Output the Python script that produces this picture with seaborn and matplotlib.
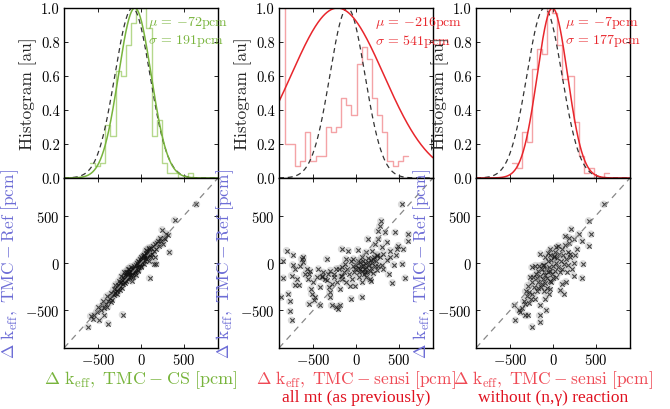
import numpy as np
import pandas as pd
import matplotlib
matplotlib.use("Agg")
import matplotlib.pyplot as plt
import seaborn as sns

# ---------------- data ----------------
# histogram bin edges and normalised heights
edges_cs = [-600, -540, -479, -419, -358, -298, -238, -177, -117, -56, 4, 64,
            125, 185, 246, 306, 366, 427, 487, 548, 608, 668]
heights_cs = [0.09, 0.07, 0.09, 0.31, 0.25, 0.63, 0.60, 0.78, 0.91, 1.0, 1.0,
              0.88, 0.25, 0.34, 0.09, 0.03, 0.03, 0.0, 0.0, 0.03, 0.0]

edges_all = [-953, -833, -773, -713, -653, -593, -533, -473, -413, -353, -293,
             -233, -173, -113, -53, 7, 67, 127, 187, 247, 307, 367, 427, 487,
             547, 607]
heights_all = [1.6, 0.2, 0.2, 0.07, 0.1, 0.27, 0.1, 0.13, 0.13, 0.3, 0.27, 0.3,
               0.47, 0.43, 0.37, 0.67, 0.77, 0.7, 0.47, 0.37, 0.27, 0.1, 0.07,
               0.1, 0.13]

edges_ng = [-479, -420, -362, -303, -244, -185, -126, -67, -8, 51, 110, 177,
            240, 299, 358, 417, 476, 535, 593, 652]
heights_ng = [0.09, 0.06, 0.27, 0.21, 0.64, 0.76, 0.73, 1.0, 0.97, 0.78, 0.58,
              0.60, 0.33, 0.13, 0.03, 0.06, 0.0, 0.0, 0.03]

# gaussian fit parameters (pcm)
mu_cs, sigma_cs = -72, 191
mu_all, sigma_all = -216, 541
mu_ng, sigma_ng = -7, 177
mu_ref, sigma_ref = -100, 205

# scatter points: (x, y) = (TMC - method, TMC - Ref)
x_cs = [-619, -588, -549, -490, -384, -431, -470, -451, -392, -353, -314, -267,
        -216, -520, -430, -410, -380, -360, -340, -330, -300, -290, -280, -270,
        -260, -250, -245, -240, -230, -225, -220, -210, -205, -200, -195, -190,
        -185, -180, -175, -170, -165, -160, -155, -150, -145, -140, -135, -130,
        -125, -120, -115, -110, -105, -100, -95, -90, -85, -80, -75, -70, -65,
        -60, -55, -50, -45, -40, -35, -30, -25, -20, -15, -10, -5, 0, 5, 10, 15,
        20, 25, 30, 35, 40, 45, 50, 55, 60, 65, 70, 75, 80, 90, 95, 100, 105,
        110, 120, 130, 140, 150, 157, 176, 165, 180, 200, 210, 220, 235, 247,
        255, 265, 275, 290, 333, 320, 392, 647, -300, -320, -350, -260, -200,
        -150, -120, -90, -60, -30, 0, 30, 60, 90, 120, 160, 190, -110, -140,
        -170, -230, -280, -400, -440, -500, -560]
y_cs = [-677, -562, -555, -607, -642, -555, -502, -449, -467, -414, -344, -274,
        -548, -520, -480, -430, -400, -370, -390, -330, -320, -280, -300, -230,
        -250, -290, -210, -240, -200, -260, -180, -220, -150, -200, -170, -130,
        -210, -160, -120, -190, -140, -100, -170, -120, -90, -150, -110, -130,
        -80, -150, -100, -60, -120, -90, -50, -110, -70, -30, -90, -50, -100,
        -20, -60, -40, 0, -70, -20, 20, -40, 10, -10, 40, -30, 20, 60, 0, 40,
        70, 30, -10, 50, 90, 20, 60, 110, 40, 80, 130, 60, 100, 20, 150, -160,
        80, 120, 160, 100, 180, 130, -10, -10, 200, 150, 230, 180, 260, 235,
        351, 200, 270, 250, 310, 112, 300, 453, 621, -230, -280, -320, -190,
        -100, -60, -40, -150, -130, -80, -40, 80, 140, 160, 60, 60, 210, -190,
        -60, -90, -140, -330, -350, -400, -470, -590]

x_all = [-811, -858, -850, -877, -791, -772, -772, -753, -741, -741, -714, -753,
         -694, -667, -714, -636, -616, -616, -577, -550, -558, -538, -527, -519,
         -550, -487, -480, -440, -402, -421, -402, -363, -331, -343, -316, -304,
         -304, -285, -253, -230, -230, -207, -187, -187, -168, -168, -160, -129,
         -121, -90, -70, -58, -43, -31, -12, -12, 20, 27, 47, 66, 66, 86, 105,
         113, 136, 144, 164, 183, 202, 222, 241, 253, 261, 280, 292, 300, 319,
         339, 358, 397, 425, 456, 475, 495, 534, 553, 542, 573, 612, 604,
         0, 20, 40, 50, 60, 70, 80, 90, 100, 110, 120, 130, 140, 150, 160, 170,
         180, 190, 200, 210, 220, 230, 240, 250, -20, -40, -60, -80, -100, -120,
         -140, -160, -180, -200, -220, -260, -280, -300, -340, -380, -420, -460,
         -500, -600, -650, 30, 75, 120, 170, 260, 280, 300, 320, 360, 380, 400,
         440, 470]
y_all = [130, 25, -161, -362, -326, -407, -512, -607, 84, -21, -63, -133, -168,
         -232, -232, 42, 60, 7, -63, -116, -168, -81, -274, -326, -432, -397,
         -362, -63, -133, -449, -151, -168, -116, 42, -256, -309, -362, -449,
         -151, -63, -467, -484, -449, -274, 147, -133, -168, -10, 42, 130, -239,
         -379, -168, 42, -63, -239, 140, 25, -63, -362, 60, -28, -98, 112, 253,
         14, -168, 130, 42, 200, 77, 340, 253, 393, 446, 165, -63, 323, 218, 130,
         -211, 323, 147, 183, 621, 147, -10, -161, 305, 235,
         -20, -50, -100, 10, -30, -80, 20, -120, -60, 0, -40, -100, 50, -20,
         -80, 30, -50, 0, -110, 60, -30, 20, -70, 90, -100, -30, 20, -120, -60,
         -200, -90, -40, -140, -60, -200, -120, -220, -80, -180, -100, -250,
         -150, -200, -120, -30, -150, -200, -150, -190, -30, 60, -20, 100, 30,
         -120, 60, -20, 80]

x_ng = [591, 416, 443, 416, 338, 350, 338, 241, 202, 210, 183, 144, 241, 280,
        300, 124, 86, -78, -148, -156, -148, -245, -440, -451, -401, -323, -296,
        -323, -284, -296, -265, -245, -206, -148, -31, 39, 8,
        -250, -230, -220, -200, -190, -180, -170, -160, -150, -140, -130, -120,
        -110, -100, -95, -90, -80, -70, -60, -55, -50, -40, -30, -20, -10, 0,
        10, 20, 30, 40, 50, 60, 70, 80, 90, 100, 110, 120, 130, 140, 150, 160,
        170, 180, 190, 200, -300, -320, -340, -360, -380, -280, -260, -240,
        -210, -190, -170, -130, -110, -90, -70, -50, -40, -20, 0, -120, -90,
        -60, -30, 20, 60, 250, 260, 220, 150, 110]
y_ng = [621, 446, 305, 183, 235, -10, -161, -133, 95, 358, 270, 281, 253, 147,
        305, -326, -291, -502, -449, -555, -625, -677, -607, -449, -502, -555,
        -555, -432, -309, -239, -151, -46, -28, 95, 147, 165, 77,
        -200, -150, -250, -120, -300, -80, -200, -30, -140, -250, -60, -170,
        -100, -20, -210, -130, -60, -160, 20, -100, -40, -190, -80, 30, -120,
        -30, 60, -80, 0, -150, 50, -40, 100, -100, 20, 150, -60, 80, -10, 190,
        40, -90, 120, -20, 210, 60, -350, -300, -400, -480, -520, -420, -380,
        -330, -380, -160, -260, -220, -300, -380, -260, -330, -280, -200, -160,
        -20, 60, 110, 90, 120, 180, 0, 80, -60, -200, -220]

# ---------------- style ----------------
sns.set_theme(style="white")
plt.rcParams.update({
    "font.family": ["cmr10", "DejaVu Serif"],
    "mathtext.fontset": "cm",
    "axes.formatter.use_mathtext": True,
    "axes.unicode_minus": True,
    "axes.edgecolor": "black",
    "axes.linewidth": 1.0,
    "xtick.direction": "in",
    "ytick.direction": "in",
    "xtick.top": True,
    "ytick.right": True,
    "xtick.bottom": True,
    "ytick.left": True,
    "xtick.major.size": 3,
    "ytick.major.size": 3,
    "xtick.major.width": 0.6,
    "ytick.major.width": 0.6,
    "xtick.major.pad": 3,
    "ytick.major.pad": 3,
    "xtick.color": "black",
    "ytick.color": "black",
    "xtick.labelsize": 10.5,
    "ytick.labelsize": 10.5,
})

GREEN = "#78b43c"
GREEN_L = "#b5d88c"
RED = "#e8262c"
RED_L = "#f4a3a6"
RED_TXT = "#ef4a55"
RED_TXT2 = "#e01220"
BLUE = "#6d6dd6"

fig = plt.figure(figsize=(6.7, 4.1), dpi=100)
lefts = [64 / 670, 279 / 670, 476 / 670]
w = 154 / 670
h = 170 / 410
top_b = 1 - 179 / 410
bot_b = 1 - 349 / 410

panels = [
    (edges_cs, heights_cs, mu_cs, sigma_cs, x_cs, y_cs, GREEN, GREEN_L),
    (edges_all, heights_all, mu_all, sigma_all, x_all, y_all, RED, RED_L),
    (edges_ng, heights_ng, mu_ng, sigma_ng, x_ng, y_ng, RED, RED_L),
]


def label(method):
    return (r"$\Delta\ \mathrm{k_{eff}},\ \mathrm{TMC}\:-\:\mathrm{%s}\ [\mathrm{pcm}]$"
            % method)


xg = np.linspace(-900, 900, 600)
scatter_axes = []
for i, (edges, heights, mu, sig, xs, ys, col, col_l) in enumerate(panels):
    axh = fig.add_axes([lefts[i], top_b, w, h])
    axs = fig.add_axes([lefts[i], bot_b, w, h])
    scatter_axes.append(axs)

    centers = [(edges[k] + edges[k + 1]) / 2 for k in range(len(heights))]
    sns.histplot(x=centers, weights=heights, bins=edges, element="step",
                 fill=False, color=col_l, linewidth=1.0, ax=axh)
    ref = pd.DataFrame({"x": xg,
                        "y": np.exp(-0.5 * ((xg - mu_ref) / sigma_ref) ** 2)})
    fit = pd.DataFrame({"x": xg, "y": np.exp(-0.5 * ((xg - mu) / sig) ** 2)})
    sns.lineplot(data=ref, x="x", y="y", ax=axh, color="#333333",
                 linestyle=(0, (4, 3)), linewidth=0.9)
    sns.lineplot(data=fit, x="x", y="y", ax=axh, color=col, linewidth=1.1)
    axh.set_xlim(-900, 900)
    axh.set_ylim(0, 1.0)
    axh.set_xticks([-500, 0, 500])
    axh.set_xticklabels([])
    axh.set_yticks([0, 0.2, 0.4, 0.6, 0.8, 1.0])
    axh.set_yticklabels(["0.0", "0.2", "0.4", "0.6", "0.8", "1.0"])
    axh.set_xlabel("")
    axh.set_ylabel("Histogram [au]", fontsize=12.5, labelpad=3)
    tx = mu + 0.8 * sig
    axh.text(tx, 0.92, r"$\mu$ = $-$%dpcm" % abs(mu), color=col,
             fontsize=10, va="center", ha="left", clip_on=False)
    axh.text(tx, 0.81, r"$\sigma$ = %dpcm" % sig, color=col,
             fontsize=10, va="center", ha="left", clip_on=False)

    sns.lineplot(x=[-900, 900], y=[-900, 900], ax=axs, color="#888888",
                 linestyle=(0, (5, 4)), linewidth=0.9)
    sns.scatterplot(x=xs, y=ys, ax=axs, marker="o", s=30, color="#999999",
                    alpha=0.35, edgecolor="none")
    sns.scatterplot(x=xs, y=ys, ax=axs, marker="x", s=10, color="#111111",
                    alpha=0.75, linewidth=0.8)
    axs.set_xlim(-900, 900)
    axs.set_ylim(-900, 900)
    axs.set_xticks([-500, 0, 500])
    axs.set_yticks([-500, 0, 500])
    axs.set_ylabel(label("Ref"), color=BLUE, fontsize=12.5, labelpad=3)

scatter_axes[0].set_xlabel(label("CS"), color=GREEN, fontsize=13, labelpad=1)
scatter_axes[1].set_xlabel(label("sensi"), color=RED_TXT, fontsize=12.5,
                           labelpad=0.5)
scatter_axes[2].set_xlabel(label("sensi"), color=RED_TXT, fontsize=12.5,
                           labelpad=0.5)
fig.text((279 + 77) / 670, 1 - 398 / 410, "all mt (as previously)",
         color=RED_TXT2, fontsize=12.5, ha="center", va="center",
         family=["Liberation Serif"])
fig.text((476 + 77) / 670, 1 - 398 / 410, "without (n,\u03b3) reaction",
         color=RED_TXT2, fontsize=12.5, ha="center", va="center",
         family=["Liberation Serif"])

fig.savefig("out.png", dpi=100)
